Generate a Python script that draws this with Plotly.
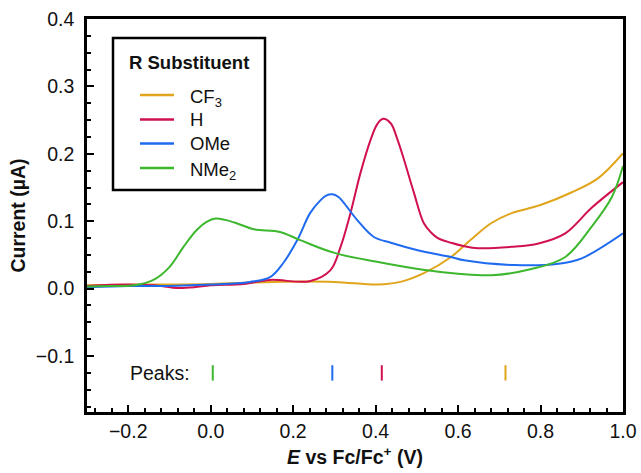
import plotly.graph_objects as go

# ---- data ----
x_nme2 = [-0.30, -0.25, -0.185, -0.14, -0.10, -0.066, -0.034, -0.01, 0.012, 0.035, 0.063, 0.105, 0.168, 0.217, 0.30, 0.42, 0.54, 0.68, 0.778, 0.86, 0.924, 0.973, 1.0]
y_nme2 = [0.003, 0.004, 0.005, 0.0126, 0.032, 0.062, 0.087, 0.099, 0.104, 0.102, 0.097, 0.088, 0.084, 0.072, 0.053, 0.038, 0.026, 0.020, 0.029, 0.047, 0.092, 0.136, 0.182]

x_h = [-0.30, -0.20, -0.12, -0.083, -0.04, 0.0, 0.08, 0.144, 0.24, 0.29, 0.315, 0.339, 0.363, 0.388, 0.404, 0.418, 0.437, 0.452, 0.468, 0.493, 0.517, 0.535, 0.551, 0.583, 0.615, 0.648, 0.73, 0.795, 0.86, 0.924, 1.0]
y_h = [0.004, 0.006, 0.004, 0.001, 0.002, 0.005, 0.007, 0.013, 0.011, 0.027, 0.062, 0.112, 0.171, 0.221, 0.244, 0.252, 0.245, 0.223, 0.193, 0.142, 0.097, 0.083, 0.075, 0.068, 0.063, 0.060, 0.062, 0.067, 0.082, 0.12, 0.158]

x_ome = [-0.30, -0.20, -0.10, 0.0, 0.095, 0.144, 0.176, 0.21, 0.241, 0.266, 0.28, 0.295, 0.31, 0.322, 0.355, 0.395, 0.437, 0.502, 0.583, 0.615, 0.737, 0.844, 0.90, 1.0]
y_ome = [0.002, 0.004, 0.004, 0.006, 0.010, 0.017, 0.038, 0.072, 0.112, 0.131, 0.138, 0.140, 0.136, 0.128, 0.102, 0.077, 0.068, 0.057, 0.047, 0.042, 0.035, 0.037, 0.045, 0.082]

x_cf3 = [-0.30, -0.15, 0.0, 0.15, 0.30, 0.405, 0.46, 0.517, 0.583, 0.63, 0.68, 0.73, 0.80, 0.876, 0.94, 1.0]
y_cf3 = [0.005, 0.006, 0.007, 0.010, 0.010, 0.006, 0.010, 0.023, 0.047, 0.072, 0.097, 0.112, 0.124, 0.143, 0.164, 0.201]

names = ["CF<sub>3</sub>", "H", "OMe", "NMe<sub>2</sub>"]
colors = ["#E0A51B", "#D0114E", "#1F6BF0", "#3DB72E"]
legend_title = "R Substituent"

peak_x = [0.715, 0.415, 0.295, 0.005]
peak_y = [-0.125, -0.125, -0.125, -0.125]

series = [(x_cf3, y_cf3), (x_h, y_h), (x_ome, y_ome), (x_nme2, y_nme2)]

FONT = "Liberation Sans, Arial, sans-serif"
FS = 19.5

W, H = 641, 473
ML, MR, MT, MB = 87, 18, 19, 61
PW, PH = W - ML - MR, H - MT - MB


def px(xp):
    return (xp - ML) / PW


def py(yp):
    return (H - MB - yp) / PH


fig = go.Figure()
for (xs, ys), nm, c in zip(series, names, colors):
    fig.add_trace(go.Scatter(x=xs, y=ys, mode="lines", name=nm, showlegend=False,
                             line=dict(color=c, width=2, shape="spline", smoothing=1.0)))

fig.add_trace(go.Scatter(x=peak_x, y=peak_y, mode="markers", showlegend=False,
                         marker=dict(symbol="line-ns", size=11,
                                     line=dict(color=colors, width=2))))

fig.add_annotation(x=-0.124, y=-0.125, text="Peaks:", showarrow=False,
                   xanchor="center", yanchor="middle",
                   font=dict(size=FS, color="#111", family=FONT))

# ---- legend (box, title, samples, labels) ----
fig.add_shape(type="rect", xref="paper", yref="paper",
              x0=px(113), x1=px(265), y0=py(190), y1=py(38),
              line=dict(color="black", width=2.5), fillcolor="white", layer="above")
fig.add_annotation(xref="paper", yref="paper", x=px(189), y=py(62), text="<b>%s</b>" % legend_title,
                   showarrow=False, xanchor="center", yanchor="middle",
                   font=dict(size=FS * 0.95, color="#111", family=FONT))
item_y = [95, 119.5, 143.5, 168]
for nm, c, yy in zip(names, colors, item_y):
    fig.add_shape(type="line", xref="paper", yref="paper",
                  x0=px(140), x1=px(174), y0=py(yy), y1=py(yy),
                  line=dict(color=c, width=2.5), layer="above")
    fig.add_annotation(xref="paper", yref="paper", x=px(188), y=py(yy), text=nm,
                       showarrow=False, xanchor="left", yanchor="middle",
                       yshift=-3 if "sub" in nm else 0,
                       font=dict(size=FS * 0.95, color="#111", family=FONT))

axis_common = dict(showline=True, linecolor="black", linewidth=2.5, mirror=True,
                   ticks="inside", ticklen=7, tickwidth=2, tickcolor="black",
                   showgrid=False, zeroline=False, automargin=False,
                   tickfont=dict(size=FS, color="#111", family=FONT))

fig.update_xaxes(range=[-0.3, 1.0], dtick=0.2, tick0=0, tickformat=".1f",
                 minor=dict(dtick=0.04, ticks="inside", ticklen=4, tickwidth=2, tickcolor="black"),
                 title=dict(text="<b><i>E</i> vs Fc/Fc<sup>+</sup> (V)</b>", standoff=10,
                            font=dict(size=FS, color="#111", family=FONT)),
                 **axis_common)
fig.update_yaxes(range=[-0.183, 0.4], dtick=0.1, tick0=0, tickformat=".1f",
                 minor=dict(dtick=0.025, ticks="inside", ticklen=4, tickwidth=2, tickcolor="black"),
                 title=dict(text="<b>Current (µA)</b>", standoff=6,
                            font=dict(size=FS, color="#111", family=FONT)),
                 ticklabelstandoff=6,
                 **axis_common)

fig.update_layout(
    width=W, height=H,
    margin=dict(l=ML, r=MR, t=MT, b=MB),
    paper_bgcolor="white", plot_bgcolor="white",
    showlegend=False,
)

fig.write_html("out.html")
